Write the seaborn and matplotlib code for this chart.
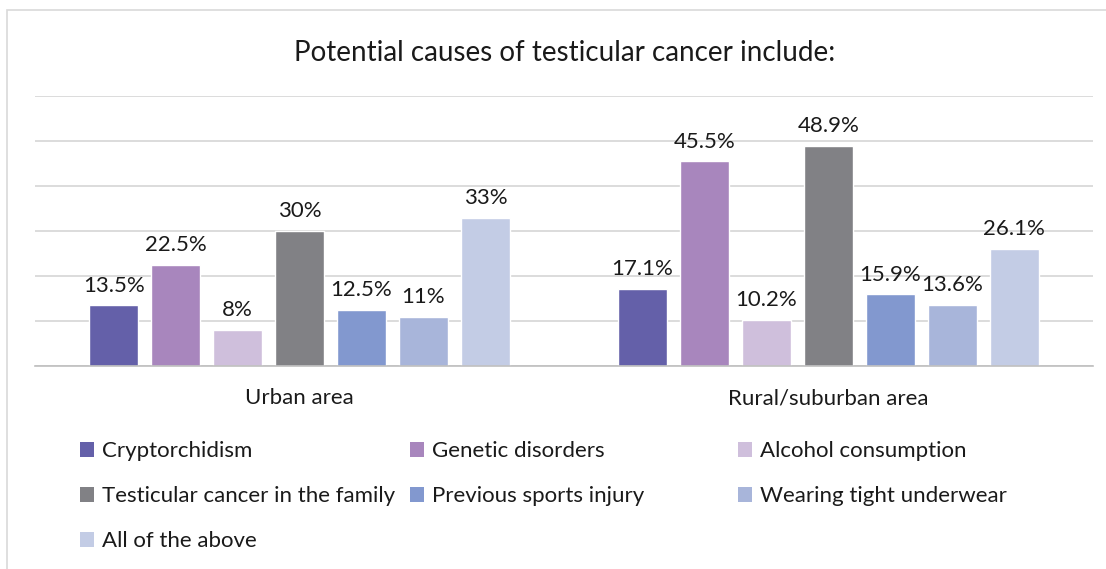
import pandas as pd
import matplotlib
matplotlib.use('Agg')
import matplotlib.pyplot as plt
import seaborn as sns
from matplotlib.patches import Patch, Rectangle

# DADOS
areas = ['Urban area', 'Rural/suburban area']
causas = ['Cryptorchidism', 'Genetic disorders', 'Alcohol consumption',
          'Testicular cancer in the family', 'Previous sports injury',
          'Wearing tight underwear', 'All of the above']
urbano = [13.5, 22.5, 8, 30, 12.5, 11, 33]
rural = [17.1, 45.5, 10.2, 48.9, 15.9, 13.6, 26.1]
rotulos_urbano = ['13.5%', '22.5%', '8%', '30%', '12.5%', '11%', '33%']
rotulos_rural = ['17.1%', '45.5%', '10.2%', '48.9%', '15.9%', '13.6%', '26.1%']
cores = ['#6460A9', '#A886BD', '#CFBFDC', '#818185', '#8298CF', '#A8B5DA', '#C3CCE5']

df = pd.DataFrame({
    'area': [areas[0]] * 7 + [areas[1]] * 7,
    'causa': causas + causas,
    'valor': urbano + rural,
})

sns.set_style('white')
plt.rcParams['font.family'] = ['Lato', 'DejaVu Sans']

W, H = 1106, 569
fig = plt.figure(figsize=(W / 100, H / 100), dpi=100)
ax = fig.add_axes([35 / W, 1 - 366 / H, 1058 / W, 270 / H])

sns.barplot(data=df, x='area', y='valor', hue='causa', hue_order=causas,
            order=areas, palette=cores, saturation=1, width=0.82, gap=0.21,
            legend=False, ax=ax)

for i, cont in enumerate(ax.containers):
    ax.bar_label(cont, labels=[rotulos_urbano[i], rotulos_rural[i]],
                 padding=7, fontsize=16, color='#1a1a1a')

ax.set_ylim(0, 60)
ax.set_xlim(-0.5, 1.5)
ax.set_yticks(range(0, 61, 10))
ax.yaxis.grid(True, color='#D9D9D9', linewidth=1.3)
ax.set_axisbelow(True)
ax.tick_params(axis='y', left=False, labelleft=False)
ax.tick_params(axis='x', which='major', length=0, pad=16, labelsize=16,
               labelcolor='#1a1a1a')
ax.set_xticks([-0.5, 0.5, 1.5], minor=True)
ax.tick_params(axis='x', which='minor', length=6, color='#BFBFBF', width=1)
for lado in ['top', 'left', 'right']:
    ax.spines[lado].set_visible(False)
ax.spines['bottom'].set_color('#BFBFBF')
ax.spines['bottom'].set_linewidth(1.2)
ax.set_xlabel('')
ax.set_ylabel('')

fig.text(565 / W, 1 - 53 / H, 'Potential causes of testicular cancer include:',
         ha='center', va='center', fontsize=20, color='#1a1a1a')

# LEGENDA EM TRES COLUNAS
posicoes = [80, 410, 738]
for k in range(3):
    idx = list(range(k, 7, 3))
    handles = [Patch(facecolor=cores[j], edgecolor='none') for j in idx]
    labels = [causas[j] for j in idx]
    leg = fig.legend(handles, labels, loc='upper left',
                     bbox_to_anchor=(posicoes[k] / W, 1 - 441 / H),
                     frameon=False, fontsize=16, handlelength=0.65,
                     handleheight=0.65, handletextpad=0.35, labelspacing=1.13,
                     borderpad=0, borderaxespad=0)
    for t in leg.get_texts():
        t.set_color('#1a1a1a')

# MOLDURA
fig.add_artist(Rectangle((7 / W, -0.05), 1.1, 1.05 - 10 / H,
                         transform=fig.transFigure, fill=False,
                         edgecolor='#D9D9D9', linewidth=1.2))

plt.savefig('out.png', dpi=100)
